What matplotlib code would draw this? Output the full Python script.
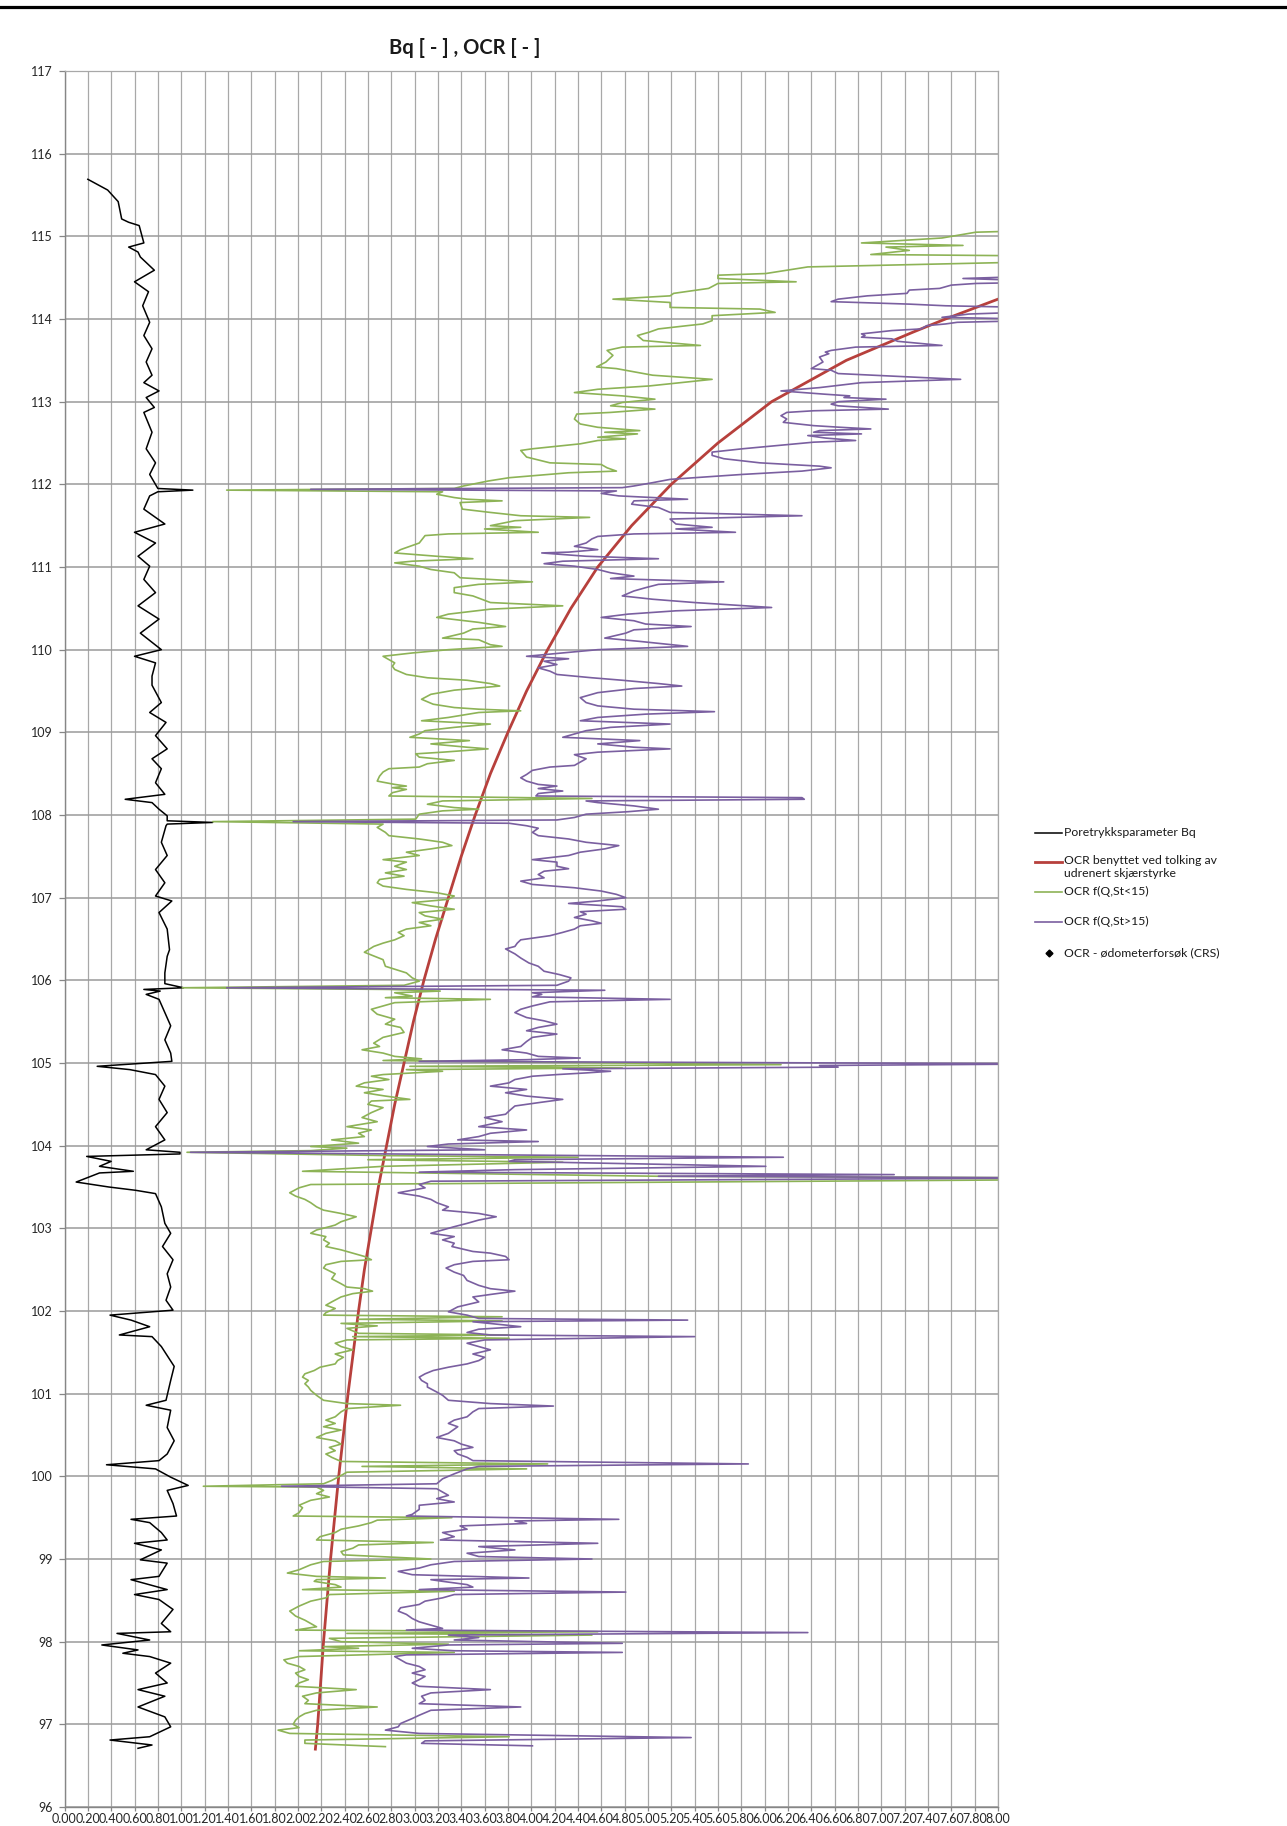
import matplotlib
matplotlib.use("Agg")
import matplotlib.pyplot as plt
from matplotlib.lines import Line2D
import numpy as np

plt.rcParams['font.family'] = ['Lato', 'DejaVu Sans']

# Poretrykksparameter Bq: (kote, Bq)
bq = [(115.69, 0.20), (115.56, 0.37), (115.42, 0.46), (115.21, 0.49), (115.17, 0.55), (115.13, 0.64),
      (114.92, 0.68), (114.87, 0.55), (114.81, 0.63), (114.75, 0.65), (114.59, 0.77), (114.45, 0.60),
      (114.33, 0.72), (114.16, 0.67), (113.96, 0.73), (113.80, 0.68), (113.64, 0.75), (113.48, 0.70),
      (113.32, 0.75), (113.23, 0.68), (113.13, 0.81), (113.05, 0.70), (112.93, 0.77), (112.87, 0.68),
      (112.63, 0.75), (112.43, 0.70), (112.26, 0.78), (112.12, 0.73), (112.00, 0.78), (111.95, 0.80),
      (111.93, 1.10), (111.91, 0.80), (111.86, 0.73), (111.70, 0.68), (111.52, 0.86), (111.42, 0.60),
      (111.29, 0.78), (111.13, 0.63), (111.01, 0.73), (110.85, 0.68), (110.69, 0.78), (110.53, 0.63),
      (110.37, 0.81), (110.20, 0.65), (110.00, 0.83), (109.92, 0.60), (109.84, 0.78), (109.68, 0.75),
      (109.57, 0.75), (109.36, 0.83), (109.24, 0.73), (109.12, 0.87), (108.96, 0.78), (108.80, 0.88),
      (108.68, 0.75), (108.56, 0.83), (108.39, 0.78), (108.25, 0.86), (108.19, 0.52), (108.15, 0.75),
      (108.07, 0.81), (107.99, 0.88), (107.93, 0.88), (107.91, 1.27), (107.89, 0.88), (107.87, 0.87),
      (107.67, 0.83), (107.51, 0.88), (107.34, 0.78), (107.18, 0.86), (107.02, 0.78), (106.96, 0.92),
      (106.82, 0.81), (106.62, 0.88), (106.37, 0.90), (106.29, 0.88), (106.09, 0.86), (105.96, 0.86),
      (105.91, 1.02), (105.89, 0.68), (105.87, 0.82), (105.83, 0.70), (105.77, 0.81), (105.61, 0.86),
      (105.45, 0.91), (105.28, 0.86), (105.12, 0.91), (105.02, 0.92), (104.96, 0.28), (104.92, 0.56),
      (104.86, 0.78), (104.72, 0.86), (104.56, 0.81), (104.40, 0.88), (104.23, 0.78), (104.07, 0.86),
      (103.95, 0.70), (103.92, 0.99), (103.90, 0.99), (103.87, 0.19), (103.81, 0.40), (103.75, 0.30),
      (103.69, 0.59), (103.67, 0.30), (103.56, 0.10), (103.50, 0.38), (103.46, 0.61), (103.42, 0.78),
      (103.26, 0.83), (103.06, 0.86), (102.94, 0.91), (102.78, 0.84), (102.62, 0.93), (102.45, 0.88),
      (102.29, 0.91), (102.13, 0.87), (102.01, 0.93), (101.95, 0.39), (101.89, 0.57), (101.81, 0.73),
      (101.71, 0.47), (101.69, 0.75), (101.57, 0.83), (101.33, 0.94), (101.16, 0.91), (100.92, 0.87),
      (100.86, 0.70), (100.80, 0.91), (100.59, 0.88), (100.43, 0.94), (100.27, 0.88), (100.19, 0.81),
      (100.14, 0.36), (100.09, 0.78), (99.99, 0.91), (99.89, 1.06), (99.83, 0.88), (99.67, 0.93),
      (99.52, 0.96), (99.48, 0.57), (99.44, 0.73), (99.32, 0.83), (99.23, 0.88), (99.19, 0.60),
      (99.11, 0.83), (98.99, 0.65), (98.95, 0.88), (98.79, 0.81), (98.75, 0.57), (98.63, 0.88),
      (98.57, 0.60), (98.51, 0.81), (98.39, 0.93), (98.22, 0.83), (98.12, 0.91), (98.10, 0.45),
      (98.02, 0.73), (97.96, 0.32), (97.90, 0.63), (97.86, 0.50), (97.82, 0.73), (97.74, 0.91),
      (97.62, 0.78), (97.50, 0.88), (97.42, 0.63), (97.34, 0.86), (97.21, 0.63), (97.09, 0.86),
      (96.97, 0.91), (96.85, 0.73), (96.81, 0.39), (96.75, 0.75), (96.71, 0.63)]

# OCR benyttet ved tolking av udrenert skjaerstyrke
ocr_tolket = [(114.24, 8.00), (114.00, 7.55), (113.84, 7.27), (113.50, 6.70), (113.00, 6.06),
              (112.50, 5.60), (112.00, 5.20), (111.50, 4.86), (111.00, 4.57), (110.50, 4.34),
              (110.00, 4.14), (109.50, 3.96), (109.00, 3.80), (108.50, 3.65), (108.00, 3.52),
              (107.50, 3.40), (107.00, 3.29), (106.50, 3.18), (106.00, 3.08), (105.50, 2.99),
              (105.00, 2.91), (104.50, 2.83), (104.00, 2.76), (103.50, 2.69), (103.00, 2.63),
              (102.50, 2.57), (102.00, 2.52), (101.50, 2.475), (101.00, 2.43), (100.50, 2.39),
              (100.00, 2.35), (99.50, 2.315), (99.00, 2.28), (98.50, 2.25), (98.00, 2.22),
              (97.50, 2.195), (97.00, 2.17), (96.70, 2.15)]

# OCR f(Q,St<15)
ocr_st_lav = [(115.08, 8.60), (115.05, 7.81), (114.98, 7.52), (114.92, 6.83), (114.89, 7.70), (114.87, 7.04),
              (114.83, 7.24), (114.78, 6.91), (114.76, 8.60), (114.70, 8.60), (114.63, 6.37), (114.55, 6.01),
              (114.53, 5.60), (114.49, 5.60), (114.45, 6.27), (114.43, 5.60), (114.37, 5.52), (114.31, 5.22),
              (114.28, 5.19), (114.24, 4.70), (114.20, 5.19), (114.14, 5.19), (114.12, 5.96), (114.08, 6.09),
              (114.04, 5.55), (113.98, 5.55), (113.94, 5.47), (113.92, 5.34), (113.88, 5.09), (113.84, 5.01),
              (113.80, 4.91), (113.74, 4.96), (113.68, 5.45), (113.66, 4.78), (113.62, 4.65), (113.56, 4.70),
              (113.48, 4.64), (113.42, 4.56), (113.40, 4.73), (113.32, 5.04), (113.27, 5.55), (113.19, 5.01),
              (113.15, 4.57), (113.11, 4.37), (113.07, 4.78), (113.03, 5.06), (112.99, 4.78), (112.95, 4.68),
              (112.91, 5.06), (112.87, 4.68), (112.85, 4.39), (112.79, 4.37), (112.73, 4.42), (112.69, 4.57),
              (112.65, 4.93), (112.63, 4.63), (112.61, 4.91), (112.57, 4.57), (112.55, 4.81), (112.53, 4.57),
              (112.49, 4.42), (112.43, 4.01), (112.41, 3.91), (112.33, 3.96), (112.26, 4.16), (112.24, 4.60),
              (112.20, 4.65), (112.16, 4.73), (112.14, 4.32), (112.08, 3.81), (112.04, 3.63), (111.98, 3.42),
              (111.95, 3.34), (111.93, 1.39), (111.91, 3.24), (111.88, 3.19), (111.84, 3.34), (111.82, 3.45),
              (111.80, 3.75), (111.78, 3.39), (111.70, 3.41), (111.66, 3.65), (111.62, 3.91), (111.60, 4.50),
              (111.56, 3.86), (111.50, 3.65), (111.48, 3.91), (111.46, 3.60), (111.42, 4.06), (111.40, 3.29),
              (111.38, 3.09), (111.29, 3.04), (111.21, 2.88), (111.17, 2.83), (111.13, 3.19), (111.10, 3.50),
              (111.07, 2.98), (111.05, 2.83), (111.01, 3.04), (110.97, 3.14), (110.93, 3.34), (110.87, 3.39),
              (110.82, 4.01), (110.79, 3.55), (110.75, 3.34), (110.69, 3.34), (110.65, 3.50), (110.57, 3.65),
              (110.53, 4.27), (110.49, 3.65), (110.43, 3.29), (110.39, 3.19), (110.33, 3.55), (110.28, 3.78),
              (110.25, 3.50), (110.20, 3.42), (110.14, 3.24), (110.12, 3.55), (110.06, 3.65), (110.04, 3.75),
              (110.00, 3.29), (109.96, 2.98), (109.92, 2.73), (109.88, 2.78), (109.84, 2.83), (109.80, 2.81),
              (109.76, 2.83), (109.70, 2.93), (109.66, 3.11), (109.63, 3.45), (109.59, 3.65), (109.56, 3.73),
              (109.53, 3.50), (109.51, 3.34), (109.46, 3.14), (109.40, 3.06), (109.34, 3.16), (109.30, 3.34),
              (109.28, 3.55), (109.26, 3.91), (109.24, 3.55), (109.18, 3.29), (109.14, 3.06), (109.10, 3.65),
              (109.06, 3.34), (109.02, 3.09), (108.98, 3.04), (108.94, 2.96), (108.90, 3.47), (108.86, 3.14),
              (108.82, 3.45), (108.80, 3.63), (108.76, 3.24), (108.74, 3.01), (108.70, 3.04), (108.66, 3.34),
              (108.62, 3.11), (108.58, 3.04), (108.56, 2.78), (108.52, 2.73), (108.47, 2.70), (108.41, 2.68),
              (108.37, 2.83), (108.35, 2.93), (108.33, 2.81), (108.31, 2.93), (108.27, 2.81), (108.23, 2.78),
              (108.20, 4.52), (108.17, 3.24), (108.13, 3.11), (108.09, 3.34), (108.07, 3.55), (108.05, 3.24),
              (108.01, 3.04), (107.95, 3.01), (107.92, 1.27), (107.89, 2.73), (107.85, 2.68), (107.79, 2.75),
              (107.75, 2.78), (107.71, 3.04), (107.67, 3.24), (107.63, 3.32), (107.59, 3.14), (107.55, 2.93),
              (107.51, 3.04), (107.46, 2.73), (107.43, 2.93), (107.38, 2.83), (107.34, 2.93), (107.30, 2.75),
              (107.26, 2.91), (107.22, 2.70), (107.18, 2.68), (107.14, 2.73), (107.10, 2.93), (107.06, 3.19),
              (107.02, 3.34), (106.98, 3.29), (106.94, 2.98), (106.90, 3.14), (106.86, 3.34), (106.82, 3.04),
              (106.78, 3.09), (106.74, 3.24), (106.70, 3.04), (106.66, 3.14), (106.62, 2.93), (106.58, 2.86),
              (106.54, 2.91), (106.49, 2.83), (106.45, 2.73), (106.41, 2.65), (106.34, 2.57), (106.25, 2.73),
              (106.17, 2.75), (106.09, 2.93), (106.03, 2.98), (105.99, 3.04), (105.94, 2.91), (105.91, 1.01),
              (105.89, 2.78), (105.87, 3.22), (105.85, 2.83), (105.81, 2.98), (105.79, 2.75), (105.77, 3.65),
              (105.75, 3.24), (105.73, 2.83), (105.69, 2.73), (105.65, 2.63), (105.59, 2.68), (105.53, 2.83),
              (105.47, 2.75), (105.43, 2.88), (105.37, 2.91), (105.31, 2.73), (105.24, 2.65), (105.20, 2.70),
              (105.16, 2.55), (105.12, 2.73), (105.08, 2.83), (105.05, 3.06), (105.03, 2.73), (104.98, 6.14),
              (104.96, 2.96), (104.94, 4.78), (104.92, 2.93), (104.90, 3.24), (104.88, 2.98), (104.86, 2.73),
              (104.84, 2.63), (104.80, 2.78), (104.76, 2.57), (104.72, 2.50), (104.68, 2.73), (104.64, 2.57),
              (104.60, 2.75), (104.56, 2.96), (104.54, 2.63), (104.50, 2.60), (104.46, 2.73), (104.40, 2.63),
              (104.34, 2.55), (104.29, 2.68), (104.23, 2.42), (104.19, 2.63), (104.15, 2.52), (104.11, 2.57),
              (104.07, 2.29), (104.03, 2.52), (103.99, 2.11), (103.97, 2.42), (103.94, 2.11), (103.92, 1.05),
              (103.88, 2.75), (103.86, 4.40), (103.83, 2.60), (103.80, 4.27), (103.75, 2.73), (103.69, 2.04),
              (103.67, 3.04), (103.63, 5.09), (103.61, 8.60), (103.59, 8.60), (103.53, 2.11), (103.49, 2.01),
              (103.43, 1.93), (103.39, 1.98), (103.35, 2.06), (103.31, 2.11), (103.26, 2.16), (103.22, 2.22),
              (103.18, 2.37), (103.14, 2.50), (103.08, 2.37), (103.04, 2.32), (103.02, 2.27), (102.98, 2.16),
              (102.94, 2.11), (102.90, 2.24), (102.86, 2.22), (102.82, 2.27), (102.78, 2.24), (102.74, 2.37),
              (102.70, 2.47), (102.66, 2.57), (102.62, 2.63), (102.60, 2.37), (102.56, 2.24), (102.52, 2.22),
              (102.45, 2.32), (102.39, 2.29), (102.33, 2.37), (102.29, 2.42), (102.27, 2.57), (102.24, 2.64),
              (102.21, 2.47), (102.17, 2.37), (102.11, 2.29), (102.07, 2.24), (102.03, 2.32), (101.98, 2.24),
              (101.95, 2.22), (101.93, 3.75), (101.90, 2.52), (101.88, 3.75), (101.85, 2.37), (101.82, 2.68),
              (101.79, 2.42), (101.73, 2.52), (101.71, 3.81), (101.69, 2.47), (101.67, 3.81), (101.65, 2.42),
              (101.61, 2.32), (101.57, 2.37), (101.53, 2.47), (101.48, 2.32), (101.44, 2.39), (101.40, 2.34),
              (101.36, 2.32), (101.32, 2.19), (101.28, 2.14), (101.24, 2.06), (101.20, 2.04), (101.16, 2.09),
              (101.12, 2.06), (101.08, 2.09), (101.04, 2.11), (100.98, 2.16), (100.92, 2.22), (100.88, 2.42),
              (100.86, 2.88), (100.82, 2.42), (100.78, 2.37), (100.72, 2.32), (100.68, 2.24), (100.64, 2.32),
              (100.60, 2.22), (100.56, 2.37), (100.52, 2.24), (100.47, 2.16), (100.43, 2.32), (100.39, 2.37),
              (100.35, 2.27), (100.31, 2.32), (100.27, 2.24), (100.23, 2.29), (100.18, 2.37), (100.15, 4.14),
              (100.12, 2.55), (100.09, 3.96), (100.05, 2.42), (100.01, 2.37), (99.95, 2.29), (99.91, 2.22),
              (99.88, 1.19), (99.87, 2.16), (99.83, 2.22), (99.79, 2.16), (99.75, 2.27), (99.71, 2.11),
              (99.65, 2.01), (99.62, 2.04), (99.56, 2.01), (99.52, 1.96), (99.50, 3.32), (99.47, 2.68),
              (99.44, 2.63), (99.40, 2.52), (99.36, 2.37), (99.32, 2.32), (99.27, 2.19), (99.23, 2.16),
              (99.20, 3.16), (99.17, 2.52), (99.13, 2.47), (99.09, 2.37), (99.05, 2.39), (99.00, 3.14),
              (98.97, 2.22), (98.93, 2.11), (98.87, 2.01), (98.83, 1.91), (98.79, 2.16), (98.77, 2.75),
              (98.75, 2.16), (98.73, 2.14), (98.69, 2.32), (98.66, 2.37), (98.63, 2.04), (98.61, 3.34),
              (98.57, 2.27), (98.53, 2.24), (98.49, 2.11), (98.43, 2.01), (98.37, 1.93), (98.31, 1.98),
              (98.26, 2.06), (98.22, 2.11), (98.18, 2.16), (98.14, 1.98), (98.12, 4.57), (98.10, 2.42),
              (98.08, 4.52), (98.04, 2.27), (98.00, 2.37), (97.97, 3.29), (97.94, 2.22), (97.92, 2.52),
              (97.89, 2.01), (97.87, 3.34), (97.82, 2.01), (97.78, 1.88), (97.74, 1.91), (97.70, 2.01),
              (97.66, 2.06), (97.62, 1.98), (97.58, 2.01), (97.54, 2.09), (97.50, 2.01), (97.46, 1.98),
              (97.42, 2.50), (97.38, 2.16), (97.34, 2.04), (97.29, 2.09), (97.25, 2.06), (97.21, 2.68),
              (97.17, 2.16), (97.13, 2.06), (97.09, 2.01), (97.05, 1.98), (97.00, 1.96), (96.96, 2.01),
              (96.93, 1.83), (96.89, 1.93), (96.85, 3.81), (96.81, 2.06), (96.77, 2.06), (96.73, 2.75)]

# OCR f(Q,St>15)
ocr_st_hoy = [(114.53, 8.60), (114.49, 7.70), (114.45, 8.60), (114.43, 7.81), (114.41, 7.60), (114.37, 7.50),
              (114.35, 7.24), (114.31, 7.22), (114.28, 6.88), (114.24, 6.63), (114.21, 6.57), (114.18, 7.24),
              (114.16, 7.55), (114.13, 8.60), (114.10, 8.60), (114.06, 7.75), (114.02, 7.52), (113.99, 8.60),
              (113.96, 7.65), (113.94, 7.55), (113.92, 7.39), (113.88, 7.34), (113.86, 7.09), (113.82, 6.83),
              (113.80, 6.86), (113.78, 6.83), (113.76, 7.09), (113.73, 7.14), (113.68, 7.52), (113.66, 6.78),
              (113.62, 6.57), (113.60, 6.52), (113.58, 6.55), (113.54, 6.47), (113.48, 6.50), (113.44, 6.45),
              (113.40, 6.40), (113.38, 6.57), (113.34, 6.63), (113.27, 7.68), (113.23, 6.83), (113.17, 6.47),
              (113.13, 6.14), (113.09, 6.52), (113.07, 6.73), (113.05, 6.68), (113.03, 7.04), (113.00, 6.63),
              (112.97, 6.57), (112.95, 6.63), (112.91, 7.06), (112.89, 6.42), (112.87, 6.19), (112.83, 6.14),
              (112.79, 6.19), (112.75, 6.16), (112.71, 6.42), (112.69, 6.65), (112.67, 6.91), (112.65, 6.47),
              (112.63, 6.42), (112.61, 6.83), (112.59, 6.37), (112.56, 6.52), (112.53, 6.78), (112.51, 6.42),
              (112.47, 6.11), (112.43, 5.81), (112.39, 5.55), (112.35, 5.55), (112.31, 5.65), (112.26, 5.96),
              (112.22, 6.47), (112.20, 6.57), (112.16, 6.32), (112.12, 5.81), (112.08, 5.40), (112.06, 5.19),
              (112.02, 5.04), (111.98, 4.88), (111.96, 4.78), (111.94, 2.11), (111.92, 4.73), (111.89, 4.60),
              (111.86, 4.75), (111.82, 5.34), (111.80, 4.88), (111.76, 4.86), (111.72, 5.09), (111.66, 5.19),
              (111.62, 6.32), (111.58, 5.19), (111.52, 5.24), (111.48, 5.55), (111.46, 5.24), (111.42, 5.75),
              (111.40, 4.88), (111.37, 4.57), (111.34, 4.52), (111.29, 4.47), (111.25, 4.37), (111.21, 4.57),
              (111.18, 4.32), (111.17, 4.09), (111.13, 4.47), (111.10, 5.09), (111.07, 4.27), (111.04, 4.11),
              (111.01, 4.37), (110.97, 4.57), (110.93, 4.68), (110.89, 4.88), (110.86, 4.68), (110.82, 5.65),
              (110.79, 5.09), (110.75, 4.98), (110.71, 4.88), (110.65, 4.78), (110.61, 5.04), (110.57, 5.40),
              (110.51, 6.06), (110.47, 5.24), (110.43, 4.83), (110.39, 4.60), (110.35, 4.88), (110.31, 4.98),
              (110.28, 5.37), (110.24, 4.88), (110.20, 4.81), (110.14, 4.63), (110.10, 4.93), (110.04, 5.34),
              (110.00, 4.57), (109.96, 4.27), (109.92, 3.96), (109.89, 4.32), (109.86, 4.11), (109.82, 4.22),
              (109.78, 4.06), (109.74, 4.16), (109.70, 4.22), (109.66, 4.52), (109.63, 4.78), (109.59, 5.09),
              (109.56, 5.29), (109.53, 4.88), (109.48, 4.57), (109.42, 4.42), (109.36, 4.47), (109.32, 4.57),
              (109.28, 4.88), (109.25, 5.57), (109.22, 4.98), (109.18, 4.57), (109.14, 4.42), (109.10, 5.19),
              (109.06, 4.68), (109.02, 4.47), (108.98, 4.37), (108.94, 4.27), (108.90, 4.93), (108.86, 4.57),
              (108.82, 4.88), (108.80, 5.19), (108.76, 4.57), (108.73, 4.37), (108.68, 4.47), (108.64, 4.42),
              (108.60, 4.37), (108.58, 4.16), (108.54, 4.01), (108.49, 3.96), (108.45, 3.91), (108.41, 3.96),
              (108.37, 4.06), (108.35, 4.22), (108.32, 4.06), (108.29, 4.27), (108.26, 4.06), (108.23, 4.04),
              (108.21, 6.32), (108.19, 6.34), (108.17, 4.47), (108.15, 4.57), (108.11, 4.88), (108.07, 5.09),
              (108.04, 4.83), (108.01, 4.47), (107.97, 4.37), (107.94, 4.22), (107.92, 1.96), (107.90, 3.81),
              (107.87, 3.96), (107.84, 4.06), (107.79, 4.01), (107.75, 4.06), (107.71, 4.32), (107.67, 4.47),
              (107.63, 4.75), (107.59, 4.63), (107.55, 4.42), (107.51, 4.32), (107.46, 4.01), (107.43, 4.22),
              (107.38, 4.22), (107.35, 4.32), (107.32, 4.11), (107.28, 4.06), (107.24, 4.11), (107.20, 3.91),
              (107.16, 4.01), (107.12, 4.37), (107.08, 4.60), (107.04, 4.73), (107.00, 4.81), (106.96, 4.57),
              (106.93, 4.32), (106.89, 4.78), (106.86, 4.81), (106.83, 4.42), (106.80, 4.47), (106.76, 4.37),
              (106.72, 4.52), (106.69, 4.60), (106.66, 4.42), (106.62, 4.37), (106.58, 4.27), (106.54, 4.16),
              (106.49, 3.91), (106.45, 3.88), (106.41, 3.86), (106.38, 3.78), (106.32, 3.86), (106.27, 3.91),
              (106.21, 3.98), (106.17, 4.06), (106.11, 4.11), (106.07, 4.24), (106.03, 4.34), (105.99, 4.32),
              (105.94, 4.22), (105.91, 1.39), (105.88, 4.63), (105.85, 4.01), (105.83, 4.09), (105.80, 4.01),
              (105.77, 5.19), (105.74, 4.16), (105.69, 4.01), (105.65, 3.91), (105.61, 3.86), (105.55, 3.96),
              (105.51, 4.11), (105.47, 4.22), (105.43, 4.06), (105.39, 3.96), (105.35, 4.22), (105.31, 4.01),
              (105.26, 3.96), (105.20, 3.91), (105.16, 3.75), (105.12, 3.96), (105.08, 4.06), (105.06, 4.42),
              (105.04, 3.96), (105.02, 3.04), (104.99, 8.60), (104.97, 6.47), (104.95, 6.63), (104.93, 4.27),
              (104.90, 4.68), (104.88, 4.47), (104.86, 4.22), (104.84, 4.01), (104.80, 3.86), (104.76, 3.81),
              (104.72, 3.65), (104.68, 3.96), (104.64, 3.78), (104.60, 3.96), (104.56, 4.27), (104.52, 4.06),
              (104.48, 3.86), (104.42, 3.81), (104.38, 3.78), (104.34, 3.60), (104.29, 3.75), (104.23, 3.55),
              (104.19, 3.96), (104.15, 3.65), (104.11, 3.55), (104.07, 3.37), (104.05, 4.06), (104.02, 3.29),
              (103.99, 3.11), (103.95, 3.60), (103.92, 1.08), (103.89, 3.65), (103.86, 6.16), (103.83, 3.86),
              (103.81, 3.81), (103.75, 6.01), (103.71, 3.86), (103.68, 3.04), (103.65, 7.11), (103.63, 5.09),
              (103.61, 8.60), (103.57, 3.14), (103.53, 3.04), (103.49, 3.09), (103.43, 2.86), (103.39, 3.04),
              (103.35, 3.14), (103.31, 3.19), (103.26, 3.29), (103.22, 3.24), (103.18, 3.55), (103.14, 3.70),
              (103.10, 3.55), (103.06, 3.45), (103.02, 3.34), (102.94, 3.14), (102.90, 3.34), (102.86, 3.24),
              (102.82, 3.34), (102.78, 3.32), (102.72, 3.50), (102.70, 3.65), (102.66, 3.78), (102.62, 3.81),
              (102.60, 3.50), (102.56, 3.34), (102.52, 3.27), (102.47, 3.34), (102.43, 3.42), (102.37, 3.45),
              (102.31, 3.55), (102.27, 3.65), (102.24, 3.86), (102.20, 3.65), (102.17, 3.50), (102.11, 3.55),
              (102.05, 3.37), (101.99, 3.29), (101.95, 3.45), (101.91, 3.55), (101.89, 5.34), (101.87, 3.50),
              (101.83, 3.78), (101.81, 3.91), (101.78, 3.55), (101.74, 3.45), (101.71, 3.65), (101.69, 5.40),
              (101.65, 3.60), (101.61, 3.45), (101.57, 3.55), (101.53, 3.65), (101.48, 3.50), (101.44, 3.60),
              (101.40, 3.55), (101.36, 3.45), (101.32, 3.29), (101.28, 3.16), (101.24, 3.09), (101.20, 3.04),
              (101.16, 3.06), (101.12, 3.11), (101.08, 3.11), (101.02, 3.19), (100.98, 3.24), (100.92, 3.29),
              (100.88, 3.65), (100.85, 4.19), (100.82, 3.55), (100.78, 3.50), (100.72, 3.45), (100.68, 3.34),
              (100.64, 3.29), (100.60, 3.37), (100.52, 3.29), (100.47, 3.19), (100.43, 3.34), (100.39, 3.40),
              (100.35, 3.50), (100.31, 3.34), (100.27, 3.37), (100.23, 3.45), (100.19, 3.50), (100.15, 5.86),
              (100.12, 3.55), (100.09, 3.45), (100.03, 3.34), (99.97, 3.24), (99.91, 3.19), (99.88, 1.86),
              (99.85, 3.19), (99.81, 3.24), (99.77, 3.29), (99.73, 3.19), (99.69, 3.34), (99.65, 3.04),
              (99.60, 3.04), (99.54, 2.98), (99.52, 2.93), (99.48, 4.75), (99.46, 3.86), (99.43, 3.96),
              (99.40, 3.39), (99.36, 3.45), (99.32, 3.24), (99.27, 3.34), (99.23, 3.22), (99.19, 4.57),
              (99.15, 3.55), (99.11, 3.86), (99.07, 3.45), (99.03, 3.55), (99.00, 4.52), (98.97, 3.34),
              (98.93, 3.14), (98.89, 3.04), (98.85, 2.86), (98.81, 2.98), (98.77, 3.98), (98.75, 3.14),
              (98.73, 3.24), (98.69, 3.45), (98.66, 3.50), (98.63, 3.04), (98.60, 4.81), (98.57, 3.34),
              (98.53, 3.24), (98.49, 3.09), (98.45, 3.04), (98.41, 2.88), (98.37, 2.86), (98.33, 2.93),
              (98.28, 2.98), (98.24, 3.04), (98.20, 3.14), (98.16, 3.24), (98.14, 2.93), (98.11, 6.37),
              (98.08, 3.29), (98.05, 3.55), (98.02, 3.34), (97.98, 4.78), (97.96, 3.29), (97.92, 2.98),
              (97.89, 3.34), (97.87, 4.78), (97.84, 2.93), (97.82, 2.83), (97.78, 2.88), (97.74, 2.93),
              (97.70, 3.04), (97.66, 3.09), (97.62, 2.98), (97.58, 3.09), (97.54, 3.04), (97.50, 2.98),
              (97.46, 3.04), (97.42, 3.65), (97.38, 3.14), (97.34, 3.06), (97.29, 3.09), (97.25, 3.04),
              (97.21, 3.91), (97.17, 3.14), (97.11, 3.04), (97.07, 2.98), (97.01, 2.88), (96.97, 2.86),
              (96.93, 2.75), (96.89, 3.04), (96.84, 5.37), (96.80, 3.09), (96.77, 3.06), (96.74, 4.01)]

# OCR fra oedometerforsoek (CRS) - ingen punkter i dette intervallet
ocr_crs = []

x_ticks = np.arange(0, 8.001, 0.2)
y_ticks = np.arange(96, 118, 1)

W, H = 1287, 1826
fig = plt.figure(figsize=(W / 100, H / 100), dpi=100)
ax = fig.add_axes([64.5 / W, 1 - 1807 / H, 933.5 / W, 1736 / H])


def split(pairs):
    if not pairs:
        return [], []
    z, v = zip(*pairs)
    return list(v), list(z)


c_bq = 'black'
c_red = '#B7403C'
c_green = '#8DB356'
c_purple = '#7A5FA0'

x, z = split(bq)
ax.plot(x, z, color=c_bq, lw=1.1)
x, z = split(ocr_tolket)
ax.plot(x, z, color=c_red, lw=2.0, solid_joinstyle='round')
x, z = split(ocr_st_lav)
ax.plot(x, z, color=c_green, lw=1.2)
x, z = split(ocr_st_hoy)
ax.plot(x, z, color=c_purple, lw=1.2)
x, z = split(ocr_crs)
ax.plot(x, z, ls='none', marker='D', color='black', ms=4)

ax.set_xlim(0, 8)
ax.set_ylim(96, 117)
ax.set_xticks(x_ticks)
ax.set_xticklabels([f"{v:.2f}" for v in x_ticks])
ax.set_yticks(y_ticks)
ax.set_yticklabels([f"{v:d}" for v in y_ticks])

ax.xaxis.grid(True, color='#a8a8a8', lw=0.9)
ax.yaxis.grid(True, color='#9a9a9a', lw=1.1)
ax.set_axisbelow(True)
for side in ['top', 'right']:
    ax.spines[side].set_color('#a8a8a8')
    ax.spines[side].set_linewidth(0.9)
for side in ['left', 'bottom']:
    ax.spines[side].set_color('#868686')
    ax.spines[side].set_linewidth(1.0)

ax.tick_params(axis='y', direction='out', length=4.5, width=0.9, color='#868686',
               labelsize=9, labelcolor='#262626', pad=4)
ax.tick_params(axis='x', direction='out', length=3, width=0.9, color='#868686',
               labelsize=9, labelcolor='#262626', pad=1.5)

# tittel og strek over diagrammet
fig.text(465 / W, 1 - 48 / H, "Bq [ - ] , OCR [ - ]", ha='center', va='center',
         fontsize=14.5, fontweight='bold', color='#1a1a1a')
fig.add_artist(Line2D([0, 1], [1 - 7.5 / H] * 2, color='black', lw=2.3,
                      transform=fig.transFigure))

# tegnforklaring
legend_rows = [
    (832.7, c_bq, 1.1, None, "Poretrykksparameter Bq"),
    (861.7, c_red, 2.0, None, "OCR benyttet ved tolking av\nudrenert skjærstyrke"),
    (891.7, c_green, 1.2, None, "OCR f(Q,St<15)"),
    (921.7, c_purple, 1.2, None, "OCR f(Q,St>15)"),
    (952.7, 'black', 0, 'D', "OCR - ødometerforsøk (CRS)"),
]
for yy, col, lw, mk, label in legend_rows:
    yf = 1 - yy / H
    if mk is None:
        fig.add_artist(Line2D([1035 / W, 1062 / W], [yf, yf], color=col, lw=lw,
                              transform=fig.transFigure))
    else:
        fig.add_artist(Line2D([1049 / W], [yf], color=col, marker=mk, ms=3.5, ls='none',
                              transform=fig.transFigure))
    if '\n' in label:
        fig.text(1064 / W, yf + 7 / H, label, ha='left', va='top', fontsize=8.8,
                 color='#1a1a1a', linespacing=1.3)
    else:
        fig.text(1064 / W, yf, label, ha='left', va='center', fontsize=8.8,
                 color='#1a1a1a')

fig.savefig('out.png', dpi=100, facecolor='white')
